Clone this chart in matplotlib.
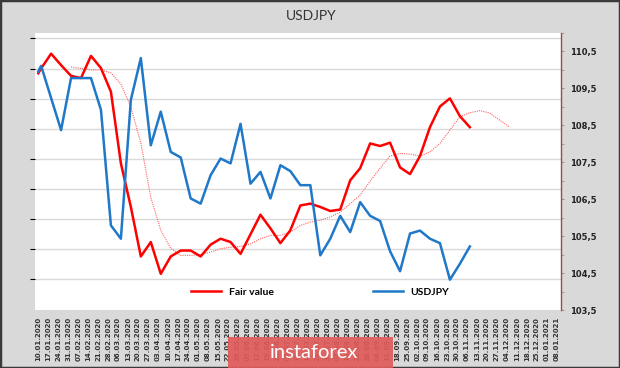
import datetime as dt
import numpy as np
import matplotlib
matplotlib.use("Agg")
import matplotlib.pyplot as plt
import matplotlib.dates as mdates
from matplotlib.ticker import FixedLocator, MultipleLocator, FuncFormatter
from matplotlib.patches import Rectangle

# weekly labels on the x axis
label_start = dt.date(2020, 1, 10)
label_dates = [label_start + dt.timedelta(days=7 * i) for i in range(53)]

# data points: first one on 10.01, then weekly
first_date = dt.date(2020, 1, 10)
week_start = dt.date(2020, 1, 12)

usdjpy = [109.96, 110.11, 109.24, 108.37, 109.78, 109.78, 109.78, 108.92, 105.79, 105.43,
          109.19, 110.32, 107.96, 108.87, 107.78, 107.63, 106.52, 106.38, 107.15, 107.60,
          107.47, 108.54, 106.92, 107.24, 106.52, 107.42, 107.26, 106.88, 106.88, 104.98,
          105.43, 106.05, 105.61, 106.42, 106.05, 105.91, 105.09, 104.55, 105.57, 105.65,
          105.43, 105.31, 104.32, 104.75, 105.22]

fair_value = [109.91, 110.04, 110.44, 110.13, 109.84, 109.78, 110.38, 110.05, 109.41, 107.47,
              106.29, 104.95, 105.34, 104.48, 104.95, 105.11, 105.11, 104.95, 105.27, 105.43,
              105.34, 105.02, 105.55, 106.08, 105.71, 105.31, 105.66, 106.33, 106.38, 106.29,
              106.18, 106.22, 107.01, 107.34, 108.01, 107.94, 108.03, 107.36, 107.18, 107.67,
              108.45, 109.01, 109.23, 108.75, 108.45]

# moving average of fair value (dotted), starts at week 3
ma_start_week = 3
fair_ma = [110.08, 110.04, 110.00, 110.00, 109.92, 109.62, 109.00, 108.02, 106.55, 105.66,
           105.17, 104.98, 104.98, 105.00, 105.07, 105.16, 105.20, 105.22, 105.29, 105.43,
           105.52, 105.52, 105.61, 105.79, 105.88, 105.93, 106.02, 106.15, 106.38, 106.61,
           106.99, 107.34, 107.67, 107.74, 107.72, 107.67, 107.78, 108.01, 108.37, 108.73,
           108.84, 108.90, 108.83, 108.64, 108.45]

series_dates = [first_date] + [week_start + dt.timedelta(days=7 * k) for k in range(len(usdjpy) - 1)]
ma_dates = [week_start + dt.timedelta(days=7 * (ma_start_week + k)) for k in range(len(fair_ma))]

fig = plt.figure(figsize=(6.2, 3.68), dpi=100, facecolor="#d9d9d9")
fig.patches.append(Rectangle((0, 0), 1, 1, transform=fig.transFigure, fill=False,
                             edgecolor="#3a3a3a", linewidth=2.5))

W, H = 620, 368
left, right, top, bottom = 35, 561, 33, 310
ax = fig.add_axes([left / W, 1 - bottom / H, (right - left) / W, (bottom - top) / H])
ax.set_facecolor("white")

# hidden primary axis only gives the horizontal gridlines
ax.set_ylim(-0.023, 9.18)
ax.yaxis.set_major_locator(FixedLocator(range(1, 10)))
ax.grid(axis="y", color="#d9d9d9", linewidth=1.0)
ax.tick_params(axis="y", left=False, labelleft=False)
for s in ax.spines.values():
    s.set_visible(False)

ax2 = ax.twinx()
ax2.plot(ma_dates, fair_ma, color="#ff6060", linestyle=(0, (1, 1)), linewidth=0.8)
ax2.plot(series_dates, fair_value, color="#ff0000", linewidth=1.8, label="Fair value")
ax2.plot(series_dates, usdjpy, color="#1f78c8", linewidth=1.8, label="USDJPY")

ax2.set_ylim(103.5, 111.0)
ax2.yaxis.set_major_locator(MultipleLocator(1.0, offset=0.5))
ax2.yaxis.set_minor_locator(MultipleLocator(0.5))
ax2.yaxis.set_major_formatter(FuncFormatter(lambda v, p: f"{v:.1f}".replace(".", ",")))
ax2.tick_params(axis="y", which="both", direction="out", length=2.5, color="#999999",
                labelsize=6, pad=4)
for lab in ax2.get_yticklabels():
    lab.set_fontweight("bold")
    lab.set_color("#222222")
for s in ["top", "left", "bottom"]:
    ax2.spines[s].set_visible(False)
ax2.spines["right"].set_color("#a04848")
ax2.spines["right"].set_linewidth(1.0)

x0 = mdates.date2num(label_start)
ax.set_xlim(x0 - 2.3, x0 + 367)
ax.set_xticks([mdates.date2num(d) for d in label_dates])
ax.set_xticklabels([d.strftime("%d.%m.%Y") for d in label_dates], rotation=90,
                   fontsize=5, fontweight="bold", color="#333333")
ax.tick_params(axis="x", length=0, pad=5)

leg = ax2.legend(loc="center", bbox_to_anchor=(320 / W, 1 - 292 / H),
                 bbox_transform=fig.transFigure, ncol=2, frameon=False,
                 handlelength=2.9, handletextpad=0.7, columnspacing=9.5,
                 prop={"family": "Lato", "weight": "bold", "size": 7.5})

fig.text(311 / W, 1 - 16 / H, "USDJPY", ha="center", va="center",
         fontsize=10, family="Lato", color="#333333")

# watermark box
fig.patches.append(Rectangle((228 / W, 0), (393 - 228) / W, 31 / H,
                             transform=fig.transFigure, facecolor="#e05a5a",
                             edgecolor="none", alpha=0.92, zorder=5))
fig.text(270 / W, 1 - 352 / H, "instaforex", ha="left", va="center",
         fontsize=14.5, family="Lato", color="white", zorder=6)

fig.savefig("out.png", dpi=100, facecolor=fig.get_facecolor())
